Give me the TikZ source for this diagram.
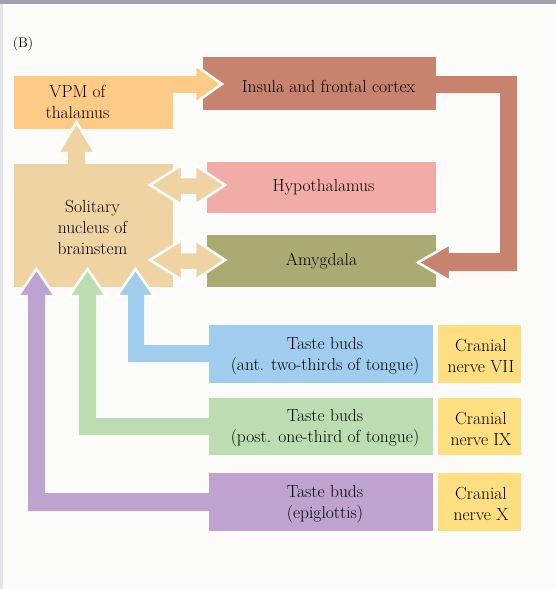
\documentclass[tikz,border=0pt]{standalone}
\usepackage{amsmath}
\usetikzlibrary{positioning}

\definecolor{bgc}{HTML}{FBFCFA}
\definecolor{topc}{HTML}{A0A0AE}
\definecolor{leftc}{HTML}{E4E4EC}
\definecolor{vpmc}{HTML}{FDCB86}
\definecolor{tanc}{HTML}{F0D3A3}
\definecolor{insc}{HTML}{C7836E}
\definecolor{hypc}{HTML}{F2ACA8}
\definecolor{amyc}{HTML}{AAAA72}
\definecolor{bluec}{HTML}{A0CCEE}
\definecolor{greenc}{HTML}{BCDDB2}
\definecolor{purc}{HTML}{BEA2D0}
\definecolor{cranc}{HTML}{FDDE80}

\begin{document}
\begin{tikzpicture}[line cap=round,line join=round,x=1pt,y=-1pt,
  box/.style={rectangle,inner sep=0pt,draw=none},
  txt/.style={align=center,inner sep=0pt,text=black,font=\fontsize{17.5}{21}\selectfont},
  headw/.style={draw=white,line width=2.5pt,line join=miter}]
\useasboundingbox (0,0) rectangle (556,589);
\fill[bgc] (0,0) rectangle (556,589);
\fill[leftc] (0,0) rectangle (3,589);
\fill[topc] (0,0) rectangle (556,4);

\node[inner sep=0pt,font=\fontsize{14}{16}\selectfont] (panel) at (23,44) {(B)};

% boxes
\node[box,fill=vpmc,minimum width=159pt,minimum height=53pt] (vpm) at (93.5,102.5) {};
\node[box,fill=tanc,minimum width=159pt,minimum height=123pt] (sol) at (93.5,225.5) {};
\node[box,fill=insc,minimum width=233pt,minimum height=53pt] (insula) at (319.5,83.5) {};
\node[box,fill=hypc,minimum width=229pt,minimum height=51pt] (hypo) at (321.5,187.5) {};
\node[box,fill=amyc,minimum width=229pt,minimum height=52pt] (amyg) at (321.5,261) {};
\node[box,fill=bluec,minimum width=224pt,minimum height=58pt] (tbant) at (321,354) {};
\node[box,fill=greenc,minimum width=224pt,minimum height=57pt] (tbpost) at (321,426.5) {};
\node[box,fill=purc,minimum width=224pt,minimum height=58pt] (tbepi) at (321,502) {};
\node[box,fill=cranc,minimum width=83pt,minimum height=58pt] (cnvii) at (479.5,354) {};
\node[box,fill=cranc,minimum width=83pt,minimum height=57pt] (cnix) at (479.5,426.5) {};
\node[box,fill=cranc,minimum width=83pt,minimum height=58pt] (cnx) at (479.5,502) {};

% VPM -> insula
\draw[headw,fill=vpmc] (195,65) -- (222,84) -- (195,103) -- cycle;
\fill[vpmc] (vpm.north east) rectangle (198,93);
% solitary -> VPM
\draw[headw,fill=tanc] (58,153) -- (76.5,122) -- (95,153) -- cycle;
\fill[tanc] (68,150) rectangle (85,165);
% solitary <-> hypothalamus, amygdala
\draw[headw,fill=tanc] (150,185) -- (182,165) -- (182,177) -- (195,177) -- (195,165) -- (225,185)
  -- (195,205) -- (195,195) -- (182,195) -- (182,205) -- cycle;
\draw[headw,fill=tanc] (150,260) -- (182,240) -- (182,252) -- (195,252) -- (195,240) -- (225,260)
  -- (195,280) -- (195,270) -- (182,270) -- (182,280) -- cycle;
% insula -> amygdala
\draw[headw,fill=insc] (450,244) -- (418,262.5) -- (450,281) -- cycle;
\fill[insc] ([xshift=-3pt]insula.east |- 0,76) -- (517,76) -- (517,271) -- (447,271) -- (447,253)
  -- (500,253) -- (500,93) -- ([xshift=-3pt]insula.east |- 0,93) -- cycle;
% taste buds -> solitary
\draw[headw,fill=bluec] (117,296) -- (135.5,269) -- (154,296) -- cycle;
\fill[bluec] (128,293) -- (128,362) -- ([xshift=3pt]tbant.west |- 0,362) -- ([xshift=3pt]tbant.west |- 0,345)
  -- (144,345) -- (144,293) -- cycle;
\draw[headw,fill=greenc] (69,296) -- (87.5,269) -- (106,296) -- cycle;
\fill[greenc] (79,293) -- (79,435) -- ([xshift=3pt]tbpost.west |- 0,435) -- ([xshift=3pt]tbpost.west |- 0,418)
  -- (96,418) -- (96,293) -- cycle;
\draw[headw,fill=purc] (18,296) -- (36.5,269) -- (55,296) -- cycle;
\fill[purc] (28,293) -- (28,511) -- ([xshift=3pt]tbepi.west |- 0,511) -- ([xshift=3pt]tbepi.west |- 0,493)
  -- (45,493) -- (45,293) -- cycle;

% labels
\node[txt] (vpmlbl) at ([xshift=-16pt,yshift=1pt]vpm.center) {VPM of\\thalamus};
\node[txt] (sollbl) at ([xshift=-1pt,yshift=-1.5pt]sol.center) {Solitary\\nucleus of\\brainstem};
\node[txt] (inslbl) at ([xshift=9pt,yshift=-3pt]insula.center) {Insula and frontal cortex};
\node[txt] (hyplbl) at ([xshift=2pt]hypo.center) {Hypothalamus};
\node[txt] (amylbl) at (amyg.center) {Amygdala};
\node[txt] (antlbl) at ([xshift=4pt,yshift=-2pt]tbant.center) {Taste buds\\(ant. two-thirds of tongue)};
\node[txt] (postlbl) at ([xshift=4pt,yshift=-2pt]tbpost.center) {Taste buds\\(post. one-third of tongue)};
\node[txt] (epilbl) at ([xshift=4pt,yshift=-2pt]tbepi.center) {Taste buds\\(epiglottis)};
\node[txt] (viilbl) at ([xshift=1.5pt,yshift=-2pt]cnvii.center) {Cranial\\nerve VII};
\node[txt] (ixlbl) at ([xshift=1.5pt,yshift=-2pt]cnix.center) {Cranial\\nerve IX};
\node[txt] (xlbl) at ([xshift=1.5pt,yshift=-2pt]cnx.center) {Cranial\\nerve X};
\end{tikzpicture}
\end{document}
